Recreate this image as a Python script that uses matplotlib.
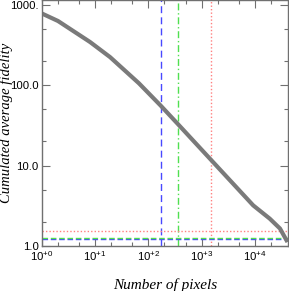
import matplotlib
matplotlib.use("Agg")
import matplotlib.pyplot as plt
from matplotlib.ticker import FixedLocator, FixedFormatter, LogLocator, NullFormatter

plt.rcParams['mathtext.fontset'] = 'custom'
plt.rcParams['mathtext.rm'] = 'Liberation Sans'
plt.rcParams['mathtext.it'] = 'Liberation Sans'

n_pixels = [1, 2.0, 8.0, 19, 66, 169, 350, 1480, 9300, 19000, 29600, 41000]
fidelity = [780, 630, 345, 224, 106, 56, 33.4, 11.9, 3.2, 2.19, 1.65, 1.12]

vlines_x = [172, 355, 1500]
hlines_y = [1.22, 1.25, 1.54]
line_colors = ['#4848ff', '#50e050', '#ff8080']
line_styles = [(0, (5, 3)), (0, (5, 2, 1, 2)), (0, (1, 1.5))]
hline_styles = [(0, (4, 2)), (0, (4, 2)), (0, (1, 1.5))]

x_ticks = [1, 10, 100, 1000, 10000]
x_ticklabels = ['10$^{+0}$', '10$^{+1}$', '10$^{+2}$', '10$^{+3}$', '10$^{+4}$']
y_ticks = [1, 10, 100, 1000]
y_ticklabels = ['1.0', '10.0', '100.0', '1000.']

fig = plt.figure(figsize=(2.89, 2.91), dpi=100)
ax = fig.add_axes([42/289, 1-246/291, (287.5-42)/289, 246/291])
ax.set_xscale('log')
ax.set_yscale('log')
ax.set_xlim(1, 41000)
ax.set_ylim(1, 1150)

for x, c, ls in zip(vlines_x, line_colors, line_styles):
    ax.axvline(x, color=c, lw=1.0, linestyle=ls)
for y, c, ls in zip(hlines_y, line_colors, hline_styles):
    ax.axhline(y, color=c, lw=1.0, linestyle=ls)

ax.plot(n_pixels, fidelity, color='#7a7a7a', lw=3, solid_capstyle='butt',
        solid_joinstyle='round')

gray = '#707070'
for s in ax.spines.values():
    s.set_color(gray)
    s.set_linewidth(1)

ax.xaxis.set_major_locator(FixedLocator(x_ticks))
ax.xaxis.set_major_formatter(FixedFormatter(x_ticklabels))
ax.xaxis.set_minor_locator(LogLocator(base=10, subs=(2, 5)))
ax.xaxis.set_minor_formatter(NullFormatter())
ax.yaxis.set_major_locator(FixedLocator(y_ticks))
ax.yaxis.set_major_formatter(FixedFormatter(y_ticklabels))
ax.yaxis.set_minor_locator(LogLocator(base=10, subs=(2, 5)))
ax.yaxis.set_minor_formatter(NullFormatter())

ax.tick_params(which='both', direction='in', top=True, right=True, color=gray,
               labelsize=8.2, labelcolor='black', labelfontfamily='Liberation Sans')
ax.tick_params(which='major', length=6, width=0.8, pad=2.5)
ax.tick_params(which='minor', length=3, width=0.8)

ax.set_xlabel('Number of pixels', fontfamily='Liberation Serif', style='italic',
              fontsize=11)
ax.set_ylabel('Cumulated average fidelity', fontfamily='Liberation Serif', style='italic',
              fontsize=10.5)
ax.xaxis.set_label_coords(0.5, -0.132)
ax.yaxis.set_label_coords(-0.12, 0.5)

fig.savefig('out.png', dpi=100)
